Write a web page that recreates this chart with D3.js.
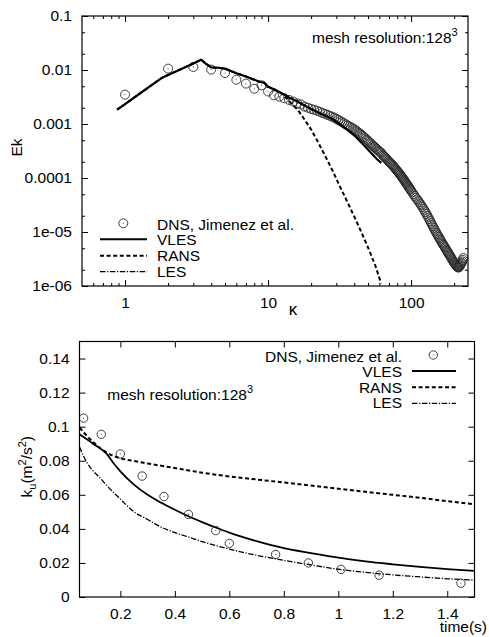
<!DOCTYPE html>
<html><head><meta charset="utf-8">
<script src="https://cdn.jsdelivr.net/npm/d3@7"></script>
<style>
body{margin:0;background:#fff;}
svg text{font-family:"Liberation Sans", Arial, Helvetica, sans-serif; fill:#000;}
</style>
</head><body>
<svg id="chart" width="489" height="637"></svg>
<script>
// ---------- Top panel: energy spectrum ----------
const specDnsKappa = [1,2,3,4,5,6,7,8,9,10,11,12,13,14,15,16,17,18,19,20,21,22,23,24,25,26,27,28,29,30,
  31,32,33,34,35,36,37,38,39,40,41,42,43,44,45,46,47,48,49,50,51,52,53,54,55,56,57,58,59,60,
  61,62,63,64,65,66,67,68,69,70,71,72,73,74,75,76,77,78,79,80,81,82,83,84,85,86,87,88,89,90,
  91,92,93,94,95,96,97,98,99,100,
  102,104,106,108,110,112,114,116,118,120,122,124,126,128,130,132,134,136,138,140,
  142,144,146,148,150,152,154,156,158,160,162,164,166,168,170,172,174,176,178,180,
  182,184,186,188,190,192,194,196,198,200,202,204,206,208,210,212,214,216,218,220,
  222,224,226,228,230,232];
const specDnsE = [0.0035,0.0106,0.0114,0.0102,0.0088,0.0066,0.0056,0.0045,0.0052,0.0040,0.0034,0.0032,0.0030,0.0028,0.0026,0.0024,0.0023,0.0021,0.0020,0.0019,
  0.00183,0.00176,0.00168,0.00160,0.00154,0.00148,0.00142,0.00137,0.00131,0.00125,
  0.00119,0.00113,0.00108,0.00103,0.00098,0.00094,0.00090,0.00087,0.00083,0.00080,
  0.00076,0.00073,0.00069,0.00066,0.00063,0.00060,0.00057,0.00054,0.00051,0.00049,
  0.00046,0.00044,0.00042,0.00040,0.00038,0.00037,0.00035,0.00034,0.00032,0.00031,
  0.00030,0.00029,0.00027,0.00026,0.00025,0.00024,0.00023,0.00022,0.00021,0.00020,
  0.000193,0.000187,0.00018,0.000173,0.000167,0.00016,0.000153,0.000147,0.00014,0.000135,
  0.00013,0.000125,0.00012,0.000115,0.00011,0.000105,0.000101,0.000097,0.000093,0.000089,
  0.000085,0.000081,0.000078,0.000075,0.000072,0.000069,0.000066,0.000063,0.000061,0.000058,
  0.000054,0.000050,0.0000465,0.000043,0.0000405,0.000038,0.0000355,0.000033,0.000031,0.000029,
  0.000027,0.000025,0.0000232,0.0000216,0.000020,0.0000186,0.0000172,0.000016,0.0000148,0.0000137,
  0.0000128,0.0000119,0.0000111,0.0000104,0.0000097,0.0000091,0.0000086,0.0000081,0.0000076,0.0000072,
  0.0000068,0.0000064,0.0000061,0.0000058,0.0000055,0.0000052,0.0000050,0.0000047,0.0000045,0.0000043,
  0.0000041,0.0000039,0.0000037,0.00000355,0.0000034,0.0000032,0.0000031,0.00000295,0.0000028,0.0000027,
  0.0000026,0.0000025,0.00000242,0.00000235,0.00000228,0.00000223,0.0000022,0.00000222,0.0000023,0.0000024,
  0.0000025,0.0000026,0.0000027,0.00000285,0.00000305,0.0000033];

const specVlesKappa = [0.88,1,1.2,1.5,1.8,2,2.5,3,3.4,3.7,4,4.5,5,6,7,8,8.8,9.4,10,11,12,13,14,16,18,20,24,28,32,37,41,47,54,58,62];
const specVlesE = [0.00185,0.00233,0.0033,0.00505,0.0071,0.0081,0.0106,0.0132,0.0155,0.0129,0.0112,0.0110,0.0106,0.0087,0.0076,0.0066,0.0060,0.0058,0.0049,0.0044,0.0039,0.0035,0.0031,0.0026,0.0022,0.0019,0.0015,0.00125,0.00098,0.00073,0.00058,0.00040,0.00027,0.00022,0.00019];

const specRansKappa = [0.88,1,1.2,1.5,1.8,2,2.5,3,3.4,3.7,4,4.5,5,6,7,8,8.8,9.4,10,11,12,13,14,15,16.2,17.5,20,22,25,28.2,31.6,35.5,39.8,44.7,50.1,56.2,61.7];
const specRansE = [0.00185,0.00233,0.0033,0.00505,0.0071,0.0081,0.0106,0.0132,0.0155,0.0129,0.0112,0.0110,0.0106,0.0087,0.0076,0.0066,0.0060,0.0058,0.0049,0.0044,
  0.0039,0.0033,0.0027,0.0022,0.0018,0.00135,0.00079,0.00050,0.00026,0.000138,0.000072,0.000038,0.000020,0.0000102,0.0000051,0.0000024,0.00000112];

const specXTicks = [1,10,100];
const specXTickLabels = ["1","10","100"];
const specXMinor = [0.6,0.7,0.8,0.9,2,3,4,5,6,7,8,9,20,30,40,50,60,70,80,90,200];
const specYTicks = [0.1,0.01,0.001,0.0001,0.00001,0.000001];
const specYTickLabels = ["0.1","0.01","0.001","0.0001","1e-05","1e-06"];
const specYMinor = [0.05,0.02,0.005,0.002,0.0005,0.0002,0.00005,0.00002,0.000005,0.000002];

// ---------- Bottom panel: kinetic energy decay ----------
const timeDns = [0.065,0.13,0.2,0.28,0.36,0.45,0.55,0.6,0.77,0.89,1.01,1.15,1.45];
const kDns = [0.105,0.0955,0.084,0.071,0.059,0.0485,0.039,0.0315,0.025,0.0200,0.0162,0.0128,0.0081];

const timeVles = [0.05,0.1,0.15,0.175,0.2,0.25,0.3,0.35,0.4,0.45,0.5,0.55,0.6,0.7,0.8,0.9,1.0,1.1,1.2,1.3,1.4,1.5];
const kVles = [0.0955,0.0900,0.0840,0.0785,0.0738,0.0660,0.0600,0.0553,0.0512,0.0474,0.0440,0.0408,0.0378,0.0328,0.0287,0.0258,0.0231,0.0209,0.0192,0.0177,0.0164,0.0153];

const timeRans = [0.05,0.075,0.1,0.125,0.15,0.175,0.2,0.25,0.3,0.4,0.5,0.6,0.7,0.8,0.9,1.0,1.1,1.2,1.3,1.4,1.5];
const kRans = [0.0995,0.0950,0.0910,0.0875,0.0848,0.0828,0.0815,0.0798,0.0784,0.0757,0.0730,0.0708,0.0690,0.0672,0.0654,0.0636,0.0618,0.0600,0.0582,0.0563,0.0545];

const timeLes = [0.05,0.075,0.1,0.125,0.15,0.2,0.25,0.3,0.35,0.4,0.45,0.5,0.55,0.6,0.7,0.8,0.9,1.0,1.1,1.2,1.3,1.4,1.5];
const kLes = [0.0881,0.0795,0.0740,0.0700,0.0655,0.0575,0.0500,0.0455,0.0410,0.0378,0.0352,0.0325,0.0302,0.0281,0.0245,0.0215,0.0188,0.0163,0.0145,0.0130,0.0118,0.0107,0.0099];

const timeXTicks = [0.2,0.4,0.6,0.8,1.0,1.2,1.4];
const timeXTickLabels = ["0.2","0.4","0.6","0.8","1","1.2","1.4"];
const timeYTicks = [0,0.02,0.04,0.06,0.08,0.1,0.12,0.14];
const timeYTickLabels = ["0","0.02","0.04","0.06","0.08","0.1","0.12","0.14"];

const legendNames = ["DNS, Jimenez et al.","VLES","RANS","LES"];

// ---------- drawing ----------
const svg = d3.select("#chart");
const FS = 15.5;
const RANS_DASH = "4,2.6";
const LES_DASH = "5.5,1.6,1.2,1.6";

function frameAxes(g, x, y, xt, xl, yt, yl, xMinor, yMinor){
  const [x0,x1] = x.range(), [y0,y1] = y.range();
  const mk = (axis, tr, vals, fmt, len, pad) => {
    const a = g.append("g").attr("transform", tr)
      .call(axis.tickValues(vals).tickFormat(fmt).tickSizeInner(-len).tickSizeOuter(0).tickPadding(pad));
    a.select(".domain").remove();
    a.selectAll("line").attr("stroke","#000").attr("stroke-width",1);
    a.selectAll("text").attr("font-size",FS).attr("font-family",null).attr("fill","#000");
    return a;
  };
  mk(d3.axisBottom(x), `translate(0,${y0})`, xt, (d,i)=>xl[i], 6, 11);
  mk(d3.axisTop(x), `translate(0,${y1})`, xt, ()=>"", 6, 0);
  mk(d3.axisLeft(y), `translate(${x0},0)`, yt, (d,i)=>yl[i], 6, 10);
  mk(d3.axisRight(y), `translate(${x1},0)`, yt, ()=>"", 6, 0);
  if (xMinor){
    mk(d3.axisBottom(x), `translate(0,${y0})`, xMinor, ()=>"", 3, 0);
    mk(d3.axisTop(x), `translate(0,${y1})`, xMinor, ()=>"", 3, 0);
  }
  if (yMinor){
    mk(d3.axisLeft(y), `translate(${x0},0)`, yMinor, ()=>"", 3, 0);
    mk(d3.axisRight(y), `translate(${x1},0)`, yMinor, ()=>"", 3, 0);
  }
  g.append("rect").attr("x",x0).attr("y",y1).attr("width",x1-x0).attr("height",y0-y1)
    .attr("fill","none").attr("stroke","#000").attr("stroke-width",1.2);
}

function ring(g, cx, cy, r, sw){
  g.append("circle").attr("cx",cx).attr("cy",cy).attr("r",r)
    .attr("fill","none").attr("stroke","#2a2a2a").attr("stroke-width",sw || 0.9);
  g.append("circle").attr("cx",cx).attr("cy",cy).attr("r",0.6).attr("fill","#555");
}

// ===== Top panel =====
const xs = d3.scaleLog().domain([0.5,250]).range([82,468]);
const ys = d3.scaleLog().domain([1e-6,0.1]).range([286,16]);
const gTop = svg.append("g");
svg.append("clipPath").attr("id","clipTop")
  .append("rect").attr("x",82).attr("y",16).attr("width",386).attr("height",270);

const gTopData = gTop.append("g").attr("clip-path","url(#clipTop)");
specDnsKappa.forEach((k,i)=>ring(gTopData, xs(k), ys(specDnsE[i]), 4.5, 0.9));
const lineTop = (kk, ee) => d3.line().x((d,i)=>xs(kk[i])).y((d,i)=>ys(ee[i]))(kk);
gTopData.append("path").attr("d", lineTop(specRansKappa, specRansE))
  .attr("fill","none").attr("stroke","#000").attr("stroke-width",2).attr("stroke-dasharray",RANS_DASH);
gTopData.append("path").attr("d", lineTop(specVlesKappa, specVlesE))
  .attr("fill","none").attr("stroke","#000").attr("stroke-width",2.2).attr("stroke-linejoin","round");

frameAxes(gTop, xs, ys, specXTicks, specXTickLabels, specYTicks, specYTickLabels, specXMinor, specYMinor);

gTop.append("text").attr("transform","translate(22,147.5) rotate(-90)").attr("text-anchor","middle")
  .attr("font-size",FS).text("Ek");
gTop.append("text").attr("x",293).attr("y",315).attr("text-anchor","middle").attr("font-size",17).text("κ");
const annTop = gTop.append("text").attr("x",312).attr("y",43.3).attr("font-size",FS);
annTop.append("tspan").text("mesh resolution:128");
annTop.append("tspan").attr("dy",-7).attr("font-size",11).text("3");

// legend top
ring(gTop, 123.3, 223.3, 4.5);
const topLegY = [230,245,261,276.7];
const topLegLineY = [null,239.3,255.7,271.7];
legendNames.forEach((n,i)=>{
  gTop.append("text").attr("x",157).attr("y",topLegY[i]).attr("font-size",FS).text(n);
});
gTop.append("line").attr("x1",100).attr("x2",147).attr("y1",topLegLineY[1]).attr("y2",topLegLineY[1]).attr("stroke","#000").attr("stroke-width",2);
gTop.append("line").attr("x1",100).attr("x2",147).attr("y1",topLegLineY[2]).attr("y2",topLegLineY[2]).attr("stroke","#000").attr("stroke-width",2).attr("stroke-dasharray",RANS_DASH);
gTop.append("line").attr("x1",100).attr("x2",147).attr("y1",topLegLineY[3]).attr("y2",topLegLineY[3]).attr("stroke","#000").attr("stroke-width",1.3).attr("stroke-dasharray",LES_DASH);

// ===== Bottom panel =====
const xb = d3.scaleLinear().domain([0.05,1.5]).range([79.5,474.5]);
const yb = d3.scaleLinear().domain([0,0.15]).range([597,341.5]);
const gBot = svg.append("g");
svg.append("clipPath").attr("id","clipBot").append("rect").attr("x",79.5).attr("y",341.5).attr("width",395).attr("height",255.5);
const gBotData = gBot.append("g").attr("clip-path","url(#clipBot)");
const lineBot = (tt, kk) => d3.line().curve(d3.curveMonotoneX).x((d,i)=>xb(tt[i])).y((d,i)=>yb(kk[i]))(tt);
gBotData.append("path").attr("d", lineBot(timeRans,kRans)).attr("fill","none").attr("stroke","#000").attr("stroke-width",2).attr("stroke-dasharray",RANS_DASH);
gBotData.append("path").attr("d", lineBot(timeLes,kLes)).attr("fill","none").attr("stroke","#000").attr("stroke-width",1.3).attr("stroke-dasharray",LES_DASH);
gBotData.append("path").attr("d", lineBot(timeVles,kVles)).attr("fill","none").attr("stroke","#000").attr("stroke-width",1.8);
timeDns.forEach((t,i)=>ring(gBot, xb(t), yb(kDns[i]), 4.2));

frameAxes(gBot, xb, yb, timeXTicks, timeXTickLabels, timeYTicks, timeYTickLabels, null, null);

gBot.append("text").attr("x",487).attr("y",632).attr("text-anchor","end").attr("font-size",FS).text("time(s)");
const yl = gBot.append("text").attr("transform","translate(32,466.7) rotate(-90)").attr("text-anchor","middle").attr("font-size",FS);
yl.append("tspan").text("k");
yl.append("tspan").attr("dy",4).attr("font-size",11).text("u");
yl.append("tspan").attr("dy",-4).text("(m");
yl.append("tspan").attr("dy",-6).attr("font-size",11).text("2");
yl.append("tspan").attr("dy",6).text("/s");
yl.append("tspan").attr("dy",-6).attr("font-size",11).text("2");
yl.append("tspan").attr("dy",6).text(")");

const annBot = gBot.append("text").attr("x",107.3).attr("y",400).attr("font-size",FS);
annBot.append("tspan").text("mesh resolution:128");
annBot.append("tspan").attr("dy",-7).attr("font-size",11).text("3");

// legend bottom
const botLegY = [361.7,376.7,392.7,408.3];
const botLegLineY = [null,371,387.3,403.3];
legendNames.forEach((n,i)=>{
  gBot.append("text").attr("x",402).attr("y",botLegY[i]).attr("text-anchor","end").attr("font-size",FS).text(n);
});
ring(gBot, 433.3, 355, 4.2);
gBot.append("line").attr("x1",412).attr("x2",456).attr("y1",botLegLineY[1]).attr("y2",botLegLineY[1]).attr("stroke","#000").attr("stroke-width",1.8);
gBot.append("line").attr("x1",412).attr("x2",456).attr("y1",botLegLineY[2]).attr("y2",botLegLineY[2]).attr("stroke","#000").attr("stroke-width",2).attr("stroke-dasharray",RANS_DASH);
gBot.append("line").attr("x1",412).attr("x2",456).attr("y1",botLegLineY[3]).attr("y2",botLegLineY[3]).attr("stroke","#000").attr("stroke-width",1.3).attr("stroke-dasharray",LES_DASH);
</script>
</body></html>
